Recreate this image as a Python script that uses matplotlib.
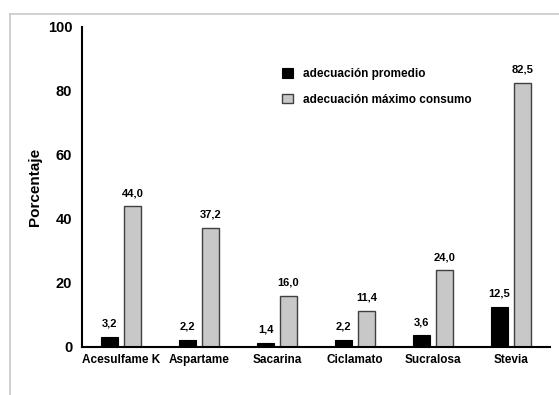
import numpy as np
import matplotlib.pyplot as plt
from matplotlib.lines import Line2D

plt.rcParams['font.family'] = ['Liberation Sans', 'DejaVu Sans']

categories = ['Acesulfame K', 'Aspartame', 'Sacarina', 'Ciclamato', 'Sucralosa', 'Stevia']
promedio = [3.2, 2.2, 1.4, 2.2, 3.6, 12.5]
maximo = [44.0, 37.2, 16.0, 11.4, 24.0, 82.5]
yticks = [0, 20, 40, 60, 80, 100]

fig = plt.figure(figsize=(5.59, 3.95), dpi=100)
# light grey frame (left and top edges visible)
fx = 9.5 / 559
fy = 1 - 13.5 / 395
fig.add_artist(Line2D([fx, fx], [0, fy], transform=fig.transFigure, color='#c8c8c8', lw=1.2))
fig.add_artist(Line2D([fx, 1], [fy, fy], transform=fig.transFigure, color='#c8c8c8', lw=1.2))

ax = fig.add_axes([82 / 559, (395 - 347) / 395, (550 - 82) / 559, (347 - 27) / 395])

x = np.arange(len(categories))
w = 0.22
off = 0.147
b1 = ax.bar(x - off, promedio, w, color='black', edgecolor='black', linewidth=0.8,
            label='adecuación promedio')
b2 = ax.bar(x + off, maximo, w, color='#c8c8c8', edgecolor='#404040', linewidth=1.0,
            label='adecuación máximo consumo')

def fmt(v):
    return f'{v:.1f}'.replace('.', ',')

for rect, v in zip(b1, promedio):
    ax.text(rect.get_x() + rect.get_width() / 2, v + 2.5, fmt(v), ha='center', va='bottom',
            fontsize=8, fontweight='bold')
for rect, v in zip(b2, maximo):
    ax.text(rect.get_x() + rect.get_width() / 2, v + 2.5, fmt(v), ha='center', va='bottom',
            fontsize=8, fontweight='bold')

ax.set_xlim(-0.5, len(categories) - 0.5)
ax.set_ylim(0, 100)
ax.set_yticks(yticks)
ax.set_yticklabels([str(t) for t in yticks], fontsize=10.5, fontweight='bold')
ax.set_xticks(x)
ax.set_xticklabels(categories, fontsize=8.5, fontweight='bold')
ax.tick_params(axis='y', length=0, pad=7)
ax.tick_params(axis='x', length=0, pad=5)

for s in ['top', 'right']:
    ax.spines[s].set_visible(False)
ax.spines['left'].set_linewidth(1.5)
ax.spines['bottom'].set_linewidth(1.5)

ax.set_ylabel('Porcentaje', fontsize=11, fontweight='bold', labelpad=4)

ax.legend(loc='upper left', bbox_to_anchor=(0.405, 0.905), frameon=False,
          prop={'weight': 'bold', 'size': 8.5}, handlelength=0.9,
          handleheight=0.9, labelspacing=1.15, handletextpad=0.9)

fig.savefig('out.png', dpi=100)
